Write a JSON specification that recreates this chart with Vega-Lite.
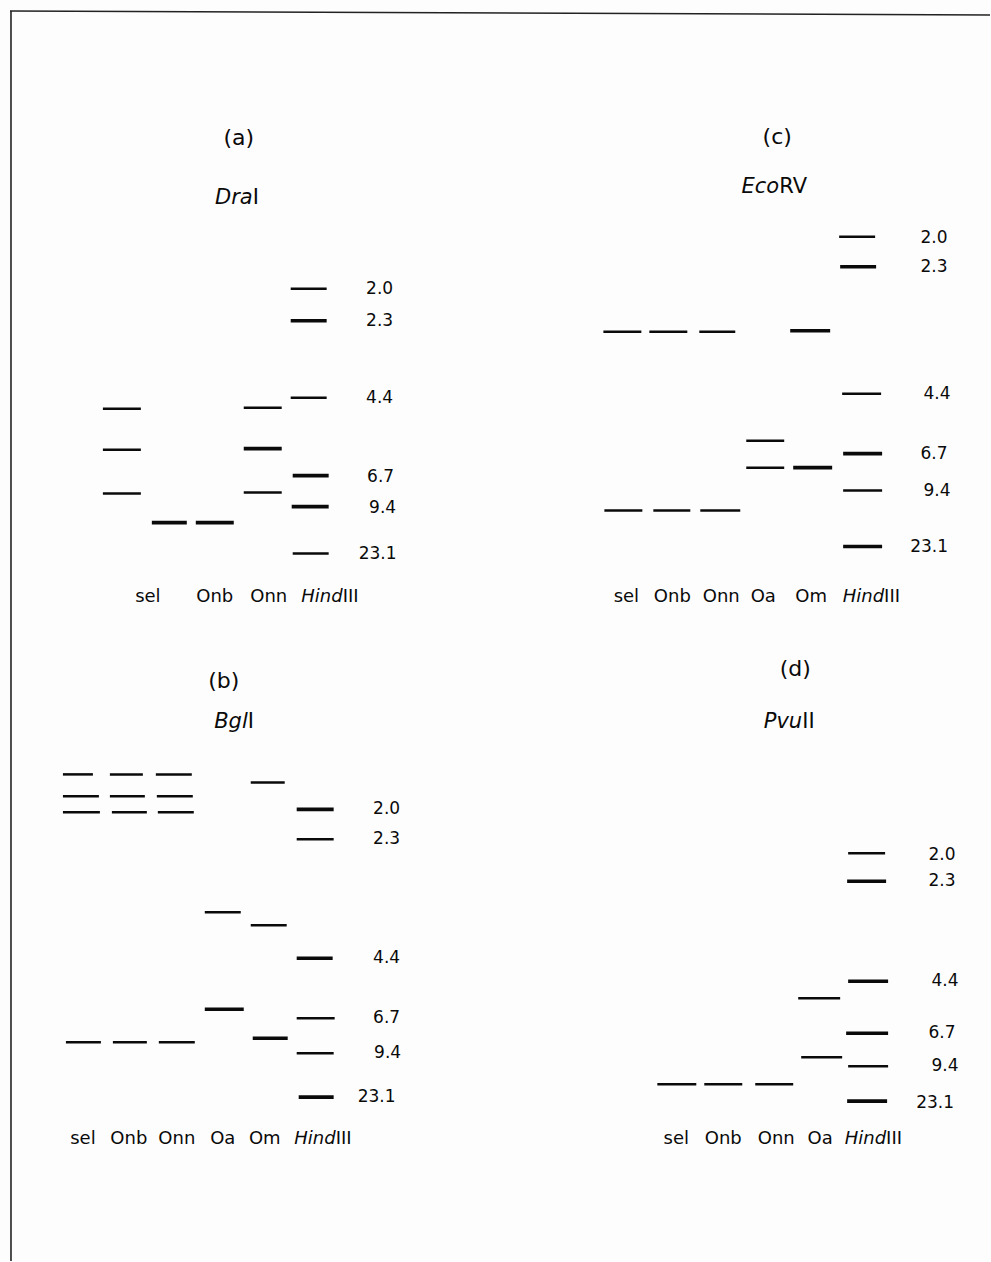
{
  "$schema": "https://vega.github.io/schema/vega-lite/v6.json",
  "width": 991,
  "height": 1262,
  "autosize": {"type": "fit", "contains": "padding"},
  "padding": 0,
  "background": "#fdfdfd",
  "config": {"view": {"stroke": null}, "text": {"font": "DejaVu Sans", "color": "#0a0a0a", "baseline": "middle"}},
  "datasets": {
    "frame": [
      {"x1": 10, "x2": 991, "y1": 11, "y2": 15},
      {"x1": 11, "x2": 11, "y1": 11, "y2": 1262}
    ],
    "bands": [
      {"panel": "a", "lane": "1", "left": 103, "right": 141, "migration": 409, "intensity": "normal"},
      {"panel": "a", "lane": "1", "left": 103, "right": 141, "migration": 450, "intensity": "normal"},
      {"panel": "a", "lane": "1", "left": 103, "right": 141, "migration": 494, "intensity": "normal"},
      {"panel": "a", "lane": "2", "left": 152, "right": 187, "migration": 523, "intensity": "strong"},
      {"panel": "a", "lane": "3", "left": 196, "right": 234, "migration": 523, "intensity": "strong"},
      {"panel": "a", "lane": "4", "left": 244, "right": 282, "migration": 408, "intensity": "normal"},
      {"panel": "a", "lane": "4", "left": 244, "right": 282, "migration": 449, "intensity": "strong"},
      {"panel": "a", "lane": "4", "left": 244, "right": 282, "migration": 493, "intensity": "normal"},
      {"panel": "a", "lane": "HindIII", "left": 291, "right": 327, "migration": 289, "intensity": "normal"},
      {"panel": "a", "lane": "HindIII", "left": 291, "right": 327, "migration": 321, "intensity": "strong"},
      {"panel": "a", "lane": "HindIII", "left": 291, "right": 327, "migration": 398, "intensity": "normal"},
      {"panel": "a", "lane": "HindIII", "left": 293, "right": 329, "migration": 476, "intensity": "strong"},
      {"panel": "a", "lane": "HindIII", "left": 292, "right": 329, "migration": 507, "intensity": "strong"},
      {"panel": "a", "lane": "HindIII", "left": 293, "right": 329, "migration": 554, "intensity": "normal"},

      {"panel": "c", "lane": "sel", "left": 604, "right": 642, "migration": 332, "intensity": "normal"},
      {"panel": "c", "lane": "sel", "left": 605, "right": 643, "migration": 511, "intensity": "normal"},
      {"panel": "c", "lane": "Onb", "left": 650, "right": 688, "migration": 332, "intensity": "normal"},
      {"panel": "c", "lane": "Onb", "left": 654, "right": 691, "migration": 511, "intensity": "normal"},
      {"panel": "c", "lane": "Onn", "left": 700, "right": 736, "migration": 332, "intensity": "normal"},
      {"panel": "c", "lane": "Onn", "left": 701, "right": 741, "migration": 511, "intensity": "normal"},
      {"panel": "c", "lane": "Oa", "left": 747, "right": 785, "migration": 441, "intensity": "normal"},
      {"panel": "c", "lane": "Oa", "left": 747, "right": 785, "migration": 468, "intensity": "normal"},
      {"panel": "c", "lane": "Om", "left": 791, "right": 831, "migration": 331, "intensity": "strong"},
      {"panel": "c", "lane": "Om", "left": 794, "right": 833, "migration": 468, "intensity": "strong"},
      {"panel": "c", "lane": "HindIII", "left": 840, "right": 876, "migration": 237, "intensity": "normal"},
      {"panel": "c", "lane": "HindIII", "left": 841, "right": 877, "migration": 267, "intensity": "strong"},
      {"panel": "c", "lane": "HindIII", "left": 843, "right": 882, "migration": 394, "intensity": "normal"},
      {"panel": "c", "lane": "HindIII", "left": 844, "right": 883, "migration": 454, "intensity": "strong"},
      {"panel": "c", "lane": "HindIII", "left": 844, "right": 883, "migration": 491, "intensity": "normal"},
      {"panel": "c", "lane": "HindIII", "left": 844, "right": 883, "migration": 547, "intensity": "strong"},

      {"panel": "b", "lane": "sel", "left": 63, "right": 93, "migration": 775, "intensity": "normal"},
      {"panel": "b", "lane": "sel", "left": 63, "right": 99, "migration": 797, "intensity": "normal"},
      {"panel": "b", "lane": "sel", "left": 63, "right": 100, "migration": 813, "intensity": "normal"},
      {"panel": "b", "lane": "sel", "left": 66, "right": 101, "migration": 1043, "intensity": "normal"},
      {"panel": "b", "lane": "Onb", "left": 110, "right": 143, "migration": 775, "intensity": "normal"},
      {"panel": "b", "lane": "Onb", "left": 110, "right": 145, "migration": 797, "intensity": "normal"},
      {"panel": "b", "lane": "Onb", "left": 112, "right": 147, "migration": 813, "intensity": "normal"},
      {"panel": "b", "lane": "Onb", "left": 113, "right": 147, "migration": 1043, "intensity": "normal"},
      {"panel": "b", "lane": "Onn", "left": 156, "right": 192, "migration": 775, "intensity": "normal"},
      {"panel": "b", "lane": "Onn", "left": 157, "right": 193, "migration": 797, "intensity": "normal"},
      {"panel": "b", "lane": "Onn", "left": 158, "right": 194, "migration": 813, "intensity": "normal"},
      {"panel": "b", "lane": "Onn", "left": 159, "right": 195, "migration": 1043, "intensity": "normal"},
      {"panel": "b", "lane": "Oa", "left": 205, "right": 241, "migration": 913, "intensity": "normal"},
      {"panel": "b", "lane": "Oa", "left": 205, "right": 244, "migration": 1010, "intensity": "strong"},
      {"panel": "b", "lane": "Om", "left": 251, "right": 285, "migration": 783, "intensity": "normal"},
      {"panel": "b", "lane": "Om", "left": 251, "right": 287, "migration": 926, "intensity": "normal"},
      {"panel": "b", "lane": "Om", "left": 253, "right": 288, "migration": 1039, "intensity": "strong"},
      {"panel": "b", "lane": "HindIII", "left": 297, "right": 334, "migration": 810, "intensity": "strong"},
      {"panel": "b", "lane": "HindIII", "left": 297, "right": 334, "migration": 840, "intensity": "normal"},
      {"panel": "b", "lane": "HindIII", "left": 297, "right": 333, "migration": 959, "intensity": "strong"},
      {"panel": "b", "lane": "HindIII", "left": 297, "right": 335, "migration": 1019, "intensity": "normal"},
      {"panel": "b", "lane": "HindIII", "left": 297, "right": 334, "migration": 1054, "intensity": "normal"},
      {"panel": "b", "lane": "HindIII", "left": 299, "right": 334, "migration": 1098, "intensity": "strong"},

      {"panel": "d", "lane": "sel", "left": 658, "right": 697, "migration": 1085, "intensity": "normal"},
      {"panel": "d", "lane": "Onb", "left": 705, "right": 743, "migration": 1085, "intensity": "normal"},
      {"panel": "d", "lane": "Onn", "left": 756, "right": 794, "migration": 1085, "intensity": "normal"},
      {"panel": "d", "lane": "Oa", "left": 799, "right": 841, "migration": 999, "intensity": "normal"},
      {"panel": "d", "lane": "Oa", "left": 802, "right": 843, "migration": 1058, "intensity": "normal"},
      {"panel": "d", "lane": "HindIII", "left": 849, "right": 886, "migration": 854, "intensity": "normal"},
      {"panel": "d", "lane": "HindIII", "left": 848, "right": 887, "migration": 882, "intensity": "strong"},
      {"panel": "d", "lane": "HindIII", "left": 849, "right": 889, "migration": 982, "intensity": "strong"},
      {"panel": "d", "lane": "HindIII", "left": 847, "right": 889, "migration": 1034, "intensity": "strong"},
      {"panel": "d", "lane": "HindIII", "left": 849, "right": 889, "migration": 1067, "intensity": "normal"},
      {"panel": "d", "lane": "HindIII", "left": 848, "right": 888, "migration": 1102, "intensity": "strong"}
    ],
    "sizes": [
      {"panel": "a", "kb": "2.0", "x": 380, "y": 289},
      {"panel": "a", "kb": "2.3", "x": 380, "y": 321},
      {"panel": "a", "kb": "4.4", "x": 380, "y": 398},
      {"panel": "a", "kb": "6.7", "x": 381, "y": 477},
      {"panel": "a", "kb": "9.4", "x": 383, "y": 508},
      {"panel": "a", "kb": "23.1", "x": 378, "y": 554},
      {"panel": "c", "kb": "2.0", "x": 935, "y": 238},
      {"panel": "c", "kb": "2.3", "x": 935, "y": 267},
      {"panel": "c", "kb": "4.4", "x": 938, "y": 394},
      {"panel": "c", "kb": "6.7", "x": 935, "y": 454},
      {"panel": "c", "kb": "9.4", "x": 938, "y": 491},
      {"panel": "c", "kb": "23.1", "x": 930, "y": 547},
      {"panel": "b", "kb": "2.0", "x": 387, "y": 810},
      {"panel": "b", "kb": "2.3", "x": 387, "y": 840},
      {"panel": "b", "kb": "4.4", "x": 387, "y": 959},
      {"panel": "b", "kb": "6.7", "x": 387, "y": 1019},
      {"panel": "b", "kb": "9.4", "x": 388, "y": 1054},
      {"panel": "b", "kb": "23.1", "x": 377, "y": 1098},
      {"panel": "d", "kb": "2.0", "x": 943, "y": 856},
      {"panel": "d", "kb": "2.3", "x": 943, "y": 882},
      {"panel": "d", "kb": "4.4", "x": 946, "y": 982},
      {"panel": "d", "kb": "6.7", "x": 943, "y": 1034},
      {"panel": "d", "kb": "9.4", "x": 946, "y": 1067},
      {"panel": "d", "kb": "23.1", "x": 936, "y": 1104}
    ],
    "lanes": [
      {"panel": "a", "it": "", "rm": "sel", "x": 148, "y": 597},
      {"panel": "a", "it": "", "rm": "Onb", "x": 215, "y": 597},
      {"panel": "a", "it": "", "rm": "Onn", "x": 269, "y": 597},
      {"panel": "a", "it": "Hind", "rm": "III", "x": 343, "y": 597},
      {"panel": "c", "it": "", "rm": "sel", "x": 627, "y": 597},
      {"panel": "c", "it": "", "rm": "Onb", "x": 673, "y": 597},
      {"panel": "c", "it": "", "rm": "Onn", "x": 722, "y": 597},
      {"panel": "c", "it": "", "rm": "Oa", "x": 764, "y": 597},
      {"panel": "c", "it": "", "rm": "Om", "x": 812, "y": 597},
      {"panel": "c", "it": "Hind", "rm": "III", "x": 885, "y": 597},
      {"panel": "b", "it": "", "rm": "sel", "x": 83, "y": 1140},
      {"panel": "b", "it": "", "rm": "Onb", "x": 129, "y": 1140},
      {"panel": "b", "it": "", "rm": "Onn", "x": 177, "y": 1140},
      {"panel": "b", "it": "", "rm": "Oa", "x": 223, "y": 1140},
      {"panel": "b", "it": "", "rm": "Om", "x": 265, "y": 1140},
      {"panel": "b", "it": "Hind", "rm": "III", "x": 336, "y": 1140},
      {"panel": "d", "it": "", "rm": "sel", "x": 677, "y": 1140},
      {"panel": "d", "it": "", "rm": "Onb", "x": 724, "y": 1140},
      {"panel": "d", "it": "", "rm": "Onn", "x": 777, "y": 1140},
      {"panel": "d", "it": "", "rm": "Oa", "x": 821, "y": 1140},
      {"panel": "d", "it": "Hind", "rm": "III", "x": 887, "y": 1140}
    ],
    "titles": [
      {"panel": "a", "letter": "(a)", "lx": 239, "ly": 138, "it": "Dra", "rm": "I", "x": 253, "y": 198},
      {"panel": "c", "letter": "(c)", "lx": 778, "ly": 137, "it": "Eco", "rm": "RV", "x": 780, "y": 187},
      {"panel": "b", "letter": "(b)", "lx": 224, "ly": 682, "it": "Bgl", "rm": "I", "x": 248, "y": 723},
      {"panel": "d", "letter": "(d)", "lx": 796, "ly": 670, "it": "Pvu", "rm": "II", "x": 803, "y": 723}
    ]
  },
  "layer": [
    {
      "data": {"name": "frame"},
      "mark": {"type": "rule", "color": "#222222", "strokeWidth": 1.6},
      "encoding": {
        "x": {"field": "x1", "type": "quantitative", "scale": {"domain": [0, 991], "nice": false, "zero": false}, "axis": null},
        "x2": {"field": "x2"},
        "y": {"field": "y1", "type": "quantitative", "scale": {"domain": [0, 1262], "nice": false, "zero": false, "reverse": true}, "axis": null},
        "y2": {"field": "y2"}
      }
    },
    {
      "data": {"name": "bands"},
      "mark": {"type": "rule", "color": "#0a0a0a"},
      "encoding": {
        "x": {"field": "left", "type": "quantitative", "scale": {"domain": [0, 991], "nice": false, "zero": false}, "axis": null},
        "x2": {"field": "right"},
        "y": {"field": "migration", "type": "quantitative", "scale": {"domain": [0, 1262], "nice": false, "zero": false, "reverse": true}, "axis": null},
        "strokeWidth": {"field": "intensity", "type": "nominal", "scale": {"domain": ["normal", "strong"], "range": [2.5, 3.6]}, "legend": null}
      }
    },
    {
      "data": {"name": "sizes"},
      "mark": {"type": "text", "fontSize": 17, "align": "center"},
      "encoding": {
        "x": {"field": "x", "type": "quantitative", "axis": null},
        "y": {"field": "y", "type": "quantitative", "axis": null},
        "text": {"field": "kb"}
      }
    },
    {
      "data": {"name": "lanes"},
      "transform": [{"filter": "datum.it == ''"}],
      "mark": {"type": "text", "fontSize": 18, "align": "center"},
      "encoding": {
        "x": {"field": "x", "type": "quantitative", "axis": null},
        "y": {"field": "y", "type": "quantitative", "axis": null},
        "text": {"field": "rm"}
      }
    },
    {
      "data": {"name": "lanes"},
      "transform": [{"filter": "datum.it != ''"}],
      "mark": {"type": "text", "fontSize": 18, "align": "right", "fontStyle": "italic"},
      "encoding": {
        "x": {"field": "x", "type": "quantitative", "axis": null},
        "y": {"field": "y", "type": "quantitative", "axis": null},
        "text": {"field": "it"}
      }
    },
    {
      "data": {"name": "lanes"},
      "transform": [{"filter": "datum.it != ''"}],
      "mark": {"type": "text", "fontSize": 18, "align": "left"},
      "encoding": {
        "x": {"field": "x", "type": "quantitative", "axis": null},
        "y": {"field": "y", "type": "quantitative", "axis": null},
        "text": {"field": "rm"}
      }
    },
    {
      "data": {"name": "titles"},
      "mark": {"type": "text", "fontSize": 22, "align": "center"},
      "encoding": {
        "x": {"field": "lx", "type": "quantitative", "axis": null},
        "y": {"field": "ly", "type": "quantitative", "axis": null},
        "text": {"field": "letter"}
      }
    },
    {
      "data": {"name": "titles"},
      "mark": {"type": "text", "fontSize": 21, "align": "right", "fontStyle": "italic"},
      "encoding": {
        "x": {"field": "x", "type": "quantitative", "axis": null},
        "y": {"field": "y", "type": "quantitative", "axis": null},
        "text": {"field": "it"}
      }
    },
    {
      "data": {"name": "titles"},
      "mark": {"type": "text", "fontSize": 21, "align": "left"},
      "encoding": {
        "x": {"field": "x", "type": "quantitative", "axis": null},
        "y": {"field": "y", "type": "quantitative", "axis": null},
        "text": {"field": "rm"}
      }
    }
  ]
}
